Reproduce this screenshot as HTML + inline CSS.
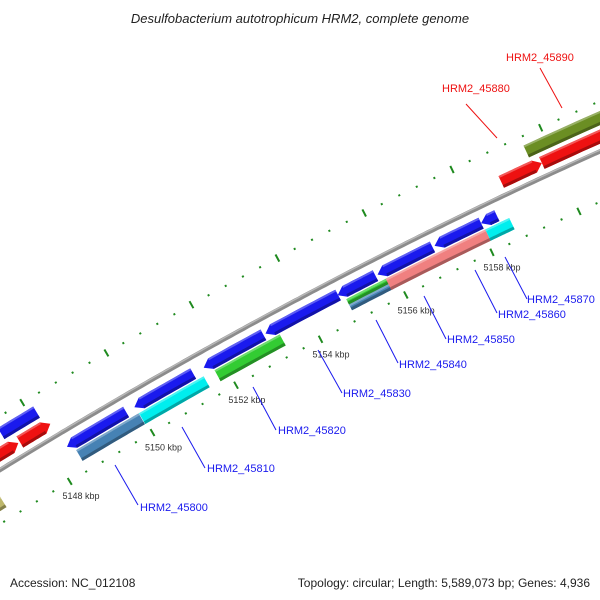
<!DOCTYPE html>
<html><head><meta charset="utf-8">
<style>
html,body{margin:0;padding:0;background:#fff;}
svg{display:block;font-family:"Liberation Sans",sans-serif;}
</style></head>
<body>
<svg id="map" width="600" height="600" viewBox="0 0 600 600" xmlns="http://www.w3.org/2000/svg">
<rect width="600" height="600" fill="#fff"/>
<text x="300" y="23" text-anchor="middle" font-size="13" font-style="italic" fill="#222">Desulfobacterium autotrophicum HRM2, complete genome</text>
<g id="feats"></g>
<g id="ticks"></g>
<g id="labels"></g>
<text x="10" y="587" font-size="12" fill="#222">Accession: NC_012108</text>
<text x="590" y="587" text-anchor="end" font-size="12" fill="#222">Topology: circular; Length: 5,589,073 bp; Genes: 4,936</text>
</svg>
<script>
// ---- data (kbp) ----
const tickStartKbp = 5146;
const tickEndKbp = 5162.2;
const majorTickKbp = [5146, 5148, 5150, 5152, 5154, 5156, 5158, 5160, 5162];
const tickLabels = ["5148 kbp", "5150 kbp", "5152 kbp", "5154 kbp", "5156 kbp", "5158 kbp"];
const tickLabelKbp = [5148, 5150, 5152, 5154, 5156, 5158];
// reverse strand genes (blue arrows)
const revStarts = [5148.32, 5149.94, 5151.59, 5153.05, 5154.74, 5155.67, 5156.99, 5158.06];
const revEnds   = [5149.74, 5151.34, 5153.0, 5154.75, 5155.62, 5156.94, 5158.06, 5158.42];
// COG row below
const cogStarts = [5145.8, 5148.45, 5149.96, 5151.76, 5154.86, 5154.86, 5155.78, 5158.08];
const cogEnds   = [5146.6, 5149.95, 5151.5, 5153.3, 5155.83, 5155.83, 5158.08, 5158.63];
const cogColors = ["#bdb76b", "#4682b4", "#00eeee", "#33cc33", "#33cc33", "#4682b4", "#f08080", "#00eeee"];
const cogHalf   = ["full", "full", "full", "full", "top", "bottom", "full", "full"];
// forward strand genes (red arrows)
const fwdStarts = [5146.2, 5147.54, 5158.8, 5159.72];
const fwdEnds   = [5147.5, 5148.27, 5159.72, 5162.5];
// outer row above
const outStarts = [5146.0, 5147.3, 5159.53];
const outEnds   = [5146.95, 5148.15, 5162.5];
const outColors = ["#c0c0c0", "#1a1aee", "#6b8e23"];
// gene labels
const geneNames = ["HRM2_45800","HRM2_45810","HRM2_45820","HRM2_45830","HRM2_45840","HRM2_45850","HRM2_45860","HRM2_45870","HRM2_45880","HRM2_45890"];
const geneColors = ["#1a1aee","#1a1aee","#1a1aee","#1a1aee","#1a1aee","#1a1aee","#1a1aee","#1a1aee","#ee1111","#ee1111"];

// ---- geometry ----
function bx(k){const d=k-5148;return 46+41.5*d+0.11*d*d;}
function by(x){return 470-0.615*x+0.00014*x*x;}
function pt(k,n){const x=bx(k);const y=by(x);const m=-0.615+0.00028*x;const L=Math.sqrt(1+m*m);return [x+(-m/L)*n,y+(1/L)*n];}
const NS="http://www.w3.org/2000/svg";
function mk(tag,attrs,parent){const e=document.createElementNS(NS,tag);for(const a in attrs)e.setAttribute(a,attrs[a]);parent.appendChild(e);return e;}
function bandPts(k1,k2,n1,n2){const a=[],b=[];const N=12;for(let i=0;i<=N;i++){const k=k1+(k2-k1)*i/N;a.push(pt(k,n1));b.unshift(pt(k,n2));}return a.concat(b);}
function arrowPts(k1,k2,n1,n2,dir){const head=0.17;const nm=(n1+n2)/2;const a=[],b=[];const N=12;
 if(dir>0){const ke=Math.max(k1,k2-head);for(let i=0;i<=N;i++){const k=k1+(ke-k1)*i/N;a.push(pt(k,n1));b.unshift(pt(k,n2));}return a.concat([pt(k2,nm)],b);}
 else{const ks=Math.min(k2,k1+head);for(let i=0;i<=N;i++){const k=ks+(k2-ks)*i/N;a.push(pt(k,n1));b.unshift(pt(k,n2));}return [pt(k1,nm)].concat(a,b);}}
function ps(p){return p.map(q=>q[0].toFixed(1)+","+q[1].toFixed(1)).join(" ");}
function shade(c,f){const r=parseInt(c.slice(1,3),16),g=parseInt(c.slice(3,5),16),b=parseInt(c.slice(5,7),16);const s=v=>Math.max(0,Math.min(255,Math.round(f<1?v*f:v+(255-v)*(f-1)))).toString(16).padStart(2,"0");return "#"+s(r)+s(g)+s(b);}

const F=document.getElementById("feats");
const T=document.getElementById("ticks");
const Lg=document.getElementById("labels");

// backbone
(function(){let d="";for(let k=5145;k<=5163;k+=0.1){const p=pt(k,0);d+=(d?"L":"M")+p[0].toFixed(1)+","+p[1].toFixed(1);}
 let d2="";for(let k=5145;k<=5163;k+=0.1){const p=pt(k,-1.2);d2+=(d2?"L":"M")+p[0].toFixed(1)+","+p[1].toFixed(1);}
 const e=mk("path",{d:d,stroke:"#8c8c8c","stroke-width":"4.5",fill:"none"},F);
 
 
 const e2=mk("path",{d:d2,stroke:"#b8b8b8","stroke-width":"1.4",fill:"none"},F);
 
 })();

function drawShape(pts,color,name,n1,n2,k1,k2){
 const e=mk("polygon",{points:ps(pts),fill:color},F);
 
 
 const h=mk("polygon",{points:ps(bandPts(k1,k2,n2-3,n2)),fill:shade(color,0.7)},F);
 
 
 const l=mk("polygon",{points:ps(bandPts(k1,k2,n1,n1+2)),fill:shade(color,1.3)},F);
 
 
}
revStarts.forEach((s,i)=>{drawShape(arrowPts(s,revEnds[i],9,21,-1),"#1a1aee","reverse-gene-"+i,9,21,s+0.17,revEnds[i]);});
cogStarts.forEach((s,i)=>{let n1=22.5,n2=35;if(cogHalf[i]==="top")n2=28.5;if(cogHalf[i]==="bottom")n1=28.5;
 drawShape(bandPts(s,cogEnds[i],n1,n2),cogColors[i],"cog-feature-"+i,n1,n2,s,cogEnds[i]);});
fwdStarts.forEach((s,i)=>{drawShape(arrowPts(s,fwdEnds[i],-20,-7,1),"#ee1111","forward-gene-"+i,-20,-7,s,fwdEnds[i]-0.17);});
outStarts.forEach((s,i)=>{drawShape(bandPts(s,outEnds[i],-37,-24),outColors[i],"outer-feature-"+i,-37,-24,s,outEnds[i]);});

// ticks
const green="#1f8a1f";
[46,-46].forEach((n0,ri)=>{
 for(let k=tickStartKbp;k<=tickEndKbp+1e-6;k+=0.4){
  const major=majorTickKbp.some(m=>Math.abs(m-k)<0.05);
  const len=major?4:1;
  const a=pt(k,n0-len),b=pt(k,n0+len);
  const e=mk("line",{x1:a[0].toFixed(1),y1:a[1].toFixed(1),x2:b[0].toFixed(1),y2:b[1].toFixed(1),stroke:green,"stroke-width":"2"},T);
  
  
 }
});
tickLabels.forEach((t,i)=>{const p=pt(tickLabelKbp[i],62);
 const e=mk("text",{x:(p[0]+3).toFixed(1),y:(p[1]+4).toFixed(1),"text-anchor":"middle","font-size":"9",fill:"#333"},T);
 e.textContent=t;
 
 });

// labels (annotation placement)
const labelPos=[[115,465,138,505,140,511],[182,427,205,468,207,472],[253,387,276,430,278,434],[318,350,342,393,343,397],[376,320,398,363,399,368],[424,296,446,339,447,343],[475,270,497,313,498,318],[505,257,527,299,527,303],[497,138,466,104,442,92],[562,108,540,68,506,61]];
geneNames.forEach((g,i)=>{const q=labelPos[i];
 const l=mk("line",{x1:q[0],y1:q[1],x2:q[2],y2:q[3],stroke:geneColors[i],"stroke-width":"1"},Lg);
 
 
 const t=mk("text",{x:q[4],y:q[5],"font-size":"11",fill:geneColors[i]},Lg);
 t.textContent=g;
 
 });
</script>
</body></html>
